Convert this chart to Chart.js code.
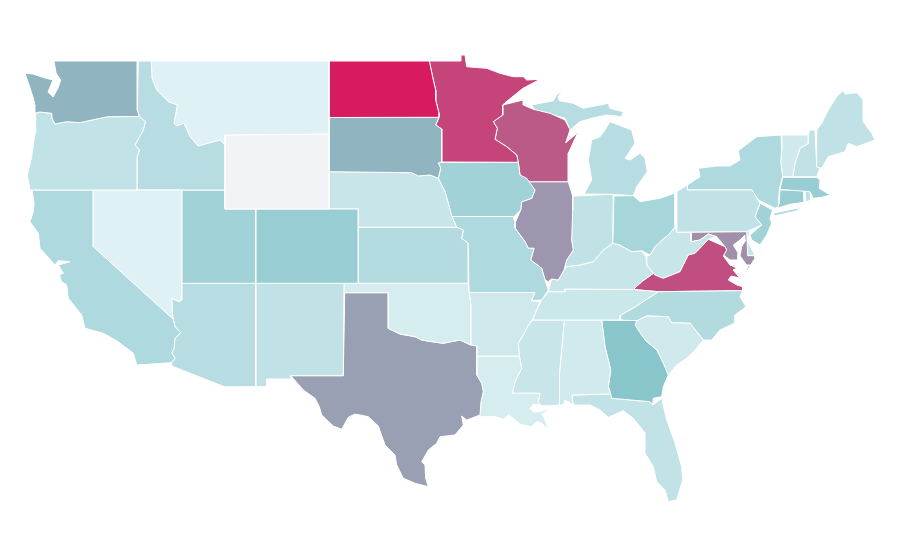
<!DOCTYPE html>
<html>
<head>
<meta charset="utf-8">
<title>US states</title>
<script src="https://cdn.jsdelivr.net/npm/chart.js@4"></script>
<style>
  html, body { margin: 0; padding: 0; background: #fff; }
  canvas { display: block; }
</style>
</head>
<body>
<canvas id="canvas1" width="900" height="560"></canvas>
<script>
// state values, null = no data
var stateNames = ['WA','OR','CA','NV','ID','MT','WY','UT','CO','AZ','NM','ND','SD','NE','KS','OK','TX','MN','IA','MO','AR','LA','WI','IL','IN','OH','MI','KY','TN','MS','AL','GA','FL','SC','NC','VA','WV','MD','DE','PA','NJ','NY','VT','NH','ME','MA','CT','RI'];
var stateValues = [55,17,28,0,23,0,null,36,41,23,18,100,55,13,25,5,61,88,36,28,10,5,82,64,18,33,23,13,12,13,8,50,17,9,26,85,13,66,13,18,36,28,9,18,18,41,41,20];

// outlines, as x,y pairs on the map grid
var outlineWA = [[54,61,137.3,61,137.3,110,139.3,116.5,108,116.7,92,120,80,122.7,66.7,121.7,55,124,52,118,51.7,113.3,40,112,35.7,113,35,105,33.3,98,30,88,25,73.3,33,74,45,78,53,80,48,92,53,97,58,88,60.7,80,56,73]];
var outlineOR = [[35.7,113,40,112,51.7,113.3,52,118,55,124,66.7,121.7,80,122.7,92,120,108,116.7,139.3,116.5,145.3,121.7,143.3,130,135,145,139.3,150,137.3,156.7,137.3,190,30,190,27.3,175,31.7,156.7,35,133.3]];
var outlineCA = [[32,190,93.3,190,93.3,246.7,173.3,319.3,175,326.7,180.7,332.7,175,338.3,174,348.3,171.7,353,175,358.3,171.7,362.7,136.7,365,133.3,353.3,118.3,341.7,103.3,333.3,85,328.3,81.7,315,68.3,298.3,66.7,285,61.7,281.7,59.3,275,63.3,273.3,58.3,265,70,261.7,58.3,260.7,55,265,40,248.3,38.3,233.3,30,221.7,33.3,211.7,34,203]];
var outlineNV = [[93.3,190,181.7,190,181.7,300,179.3,301.7,171.7,298.3,172.7,316.7,173.3,319.3,93.3,246.7]];
var outlineID = [[138.3,61,151.3,61,152,78.3,156.7,90,168.3,101.7,177.3,105,174,123.3,176.7,126,184,123.3,190,136.7,198.3,146,220,140,225,145,225,190,137.3,190,137.3,156.7,139.3,150,135,145,143.3,130,145.3,121.7,139.3,116.5,137.3,110]];
var outlineMT = [[151.3,61,329,61,329,134,225,135,225,145,220,140,198.3,146,190,136.7,184,123.3,176.7,126,174,123.3,177.3,105,168.3,101.7,156.7,90,152,78.3]];
var outlineWY = [[225,135,329,134,329,209,225,209]];
var outlineUT = [[181.7,190,225,190,225,209,255.7,209,255.7,283.3,181.7,283.3]];
var outlineCO = [[255.7,209,358.3,209,358.3,283.3,255.7,283.3]];
var outlineAZ = [[181.7,283.3,255.7,283.3,255.7,386.7,224.3,386.7,171.7,366,171.7,362.7,175,358.3,171.7,353,174,348.3,175,338.3,180.7,332.7,175,326.7,173.3,319.3,172.7,316.7,171.7,298.3,179.3,301.7,181.7,300]];
var outlineNM = [[255.7,283.3,344,283.3,343.3,375.7,290.7,375.7,290.7,379,266.7,379,266.7,386.7,255.7,386.7]];
var outlineND = [[329,61,429.3,61,433.3,80,435.7,90,435.7,100,439,113.3,439,117.3,329,117.5]];
var outlineSD = [[329,117.5,439,117.3,435.7,125,441.7,129,441.7,162,438.3,163,440.7,168,438.3,178.3,430,175,418.3,176,411.7,172.7,329,171.7]];
var outlineNE = [[329,171.7,411.7,172.7,418.3,176,430,175,438.3,178.3,445,191.7,449.3,206.7,451.7,216,456.7,227.3,358.3,227.3,358.3,209,329,209]];
var outlineKS = [[358.3,227.3,456.7,227.3,463.3,230,461.7,238.3,468.3,243.3,468.3,283.3,358.3,283.3]];
var outlineOK = [[344,283.3,468.3,283.3,469,292.5,470.7,303.3,470.7,345,460,340,443.3,343.3,431.7,341.7,421.7,340,415,336.7,400,334,390,329.3,388.3,328.3,388.3,292.7,344.7,292.7]];
var outlineTX = [[344.7,292.7,388.3,292.7,388.3,328.3,390,329.3,400,334,415,336.7,421.7,340,431.7,341.7,443.3,343.3,460,340,470.7,345,476.7,346,476.7,375,481.7,383.3,483.3,391.7,481,401.7,480,415,466.7,420,461.7,416,463.3,425,455,435,440,436.7,436.7,443.3,428.3,450,426.7,453,421.7,461.7,425,465,425.7,478.3,428.3,486.7,415,483.3,403.3,478.3,396.7,465,395,455,385,445,378.3,426,368.3,416.7,355,414,348.3,417.3,341.7,429.3,333.3,426,321.7,415,319.3,406.7,315,398.3,303.3,390,291.7,376.7,290.7,375.7,343.3,375.7]];
var outlineMN = [[429.3,61,461,61,461,55,465,55,466.7,66.7,486.7,68.3,500,73.3,513.3,76.7,523.3,76.7,526.7,80,540,79.3,523,88.3,505,102.7,502.7,105,502.7,115,493.3,121.7,497.3,128.3,495,139.3,506.7,146.7,516.7,155,518.3,162.3,441.7,162,441.7,129,435.7,125,439,117.3,439,113.3,435.7,100,435.7,90,433.3,80]];
var outlineIA = [[438.3,162.3,518.3,162.3,520,175,526.7,178.3,535,190,531.7,198.3,521.7,201.7,520.7,210,514,216.5,451.7,216.5,449.3,206.7,445,191.7,438.3,178.3,440.7,168]];
var outlineMO = [[451.7,216.5,513.3,216.5,515,223,515,228,525,241.7,528.3,248.3,534,248.3,530.7,260,541.7,268.3,545,280,548.3,290,541.7,300,531.7,300.7,535,292.5,469,292.5,468.3,243.3,461.7,238.3,463.3,230,456.7,227.3]];
var outlineAR = [[469,292.5,535,292.5,531.7,300.7,540,301.7,533.3,318,528.3,325,523.3,335,518.3,343.3,519.3,356,476.7,356,476.7,346,470.7,345,470.7,303.3]];
var outlineLA = [[476.7,356,519.3,356,521.7,368.3,515,381.7,512.3,393.3,540,393.3,538.3,401.7,540,405,533.3,404.5,530,408.3,533.3,412,541,411.5,549,407.7,541.7,415,544,417,548.3,429.3,541.7,423.3,536.7,421.7,531.7,426.7,520,424.3,513.3,418.3,508.3,415,503.3,419.3,495,416.7,481.7,416.7,480,417,480,415,481,401.7,483.3,391.7,481.7,383.3,476.7,375]];
var outlineWI = [[502.7,105,523.3,100,523.3,105,533.3,109.3,550,113.3,565,120,569.3,128.3,570,130,565.7,142.7,579,131.7,576.7,135,568.3,153.3,568.3,181.7,526,181.7,520,175,518.3,162.3,516.7,155,506.7,146.7,495,139.3,497.3,128.3,493.3,121.7,502.7,115]];
var outlineIL = [[526,181.7,568.3,181.7,572.7,196,572.7,210,571.7,240,573.3,250,566.7,260,564,270,558.3,280,551.7,279,548.3,281.7,545,280,541.7,268.3,530.7,260,534,248.3,528.3,248.3,525,241.7,515,228,515,223,520.7,210,521.7,201.7,531.7,198.3,535,190]];
var outlineIN = [[572.7,196,613.3,194.3,612.7,243.3,603.3,250,593.3,261.7,580,265,566,266.7,564,270,566.7,260,573.3,250,571.7,240]];
var outlineOH = [[614,196,633.3,195.7,640,201.7,660,198.3,675,193,675,226.7,670,233.3,660,241.7,655,246.7,650,255,641.7,250.7,631.7,251.7,620,245,612.7,243.3]];
var outlineMI = [
  [531.7,105,553.3,100.7,556.7,95,563.3,90,558.3,96.7,559.3,100.7,573.3,103.3,583.3,108.3,608.3,103.3,610,108.3,623.3,111.7,621.7,116.7,606.7,115,591.7,118.3,580,121.7,570,130,565,118.3,550,114,535,110],
  [610,121.7,631.7,130,635,143.3,625,158.3,630,160,640,153.3,645,158.3,647.3,171.7,636.7,186.7,633.3,195.7,613.3,194.3,584,194,591.7,180,588.3,160,591.7,140,600,136.7,605,130]
];
var outlineKY = [[566,266.7,580,265,593.3,261.7,603.3,250,612.7,243.3,620,245,631.7,251.7,641.7,250.7,646,256.7,646.7,265,653.3,273.3,641.7,281.7,633.3,289.5,565,289,565,291.7,548.3,291.7,551.7,279,558.3,280,564,270]];
var outlineTN = [[548.3,291.7,565,291.7,565,289,633.3,289.5,658.3,291.7,648.3,298.3,633.3,308,620.7,315,620,320,533,320,535,313,541.7,300]];
var outlineMS = [[533,320,564.3,320,559.5,373,559.5,405,545,406,540,405,538.3,401.7,540,393.3,512.3,393.3,515,381.7,521.7,368.3,519.3,356,518.3,343.3,523.3,335,528.3,325]];
var outlineAL = [[564.3,320,601.7,320,605,346.7,610.7,370,608.3,386.7,610.7,394,571.7,395,573.3,405,565,400,563.3,405,559.5,405,559.5,373]];
var outlineGA = [[601.7,320,636.7,320.5,635,325,645,340,656.7,350,663.3,363.3,668.3,375,663.3,386.7,661.7,396.7,653.3,398.3,652.7,405,650,401.7,611.7,398.3,610.7,394,608.3,386.7,610.7,370,605,346.7]];
var outlineFL = [[571.7,395,610.7,394,611.7,398.3,650,401.7,652.7,405,661.7,398.3,666.7,420,675,443,681.7,466.7,682.7,480,676.7,500,668.3,501.7,665,490,656.7,481.7,653.3,466.7,645,453,645,433,633.3,418.3,623.3,410.7,608.3,417.3,600,410,590,405,578.3,405,573.3,405]];
var outlineSC = [[635,321.7,646.7,316,668.3,316.7,671.7,322.7,690,323.3,703.3,340,695,350,686.7,358.3,676.7,365,668.3,375,663.3,363.3,656.7,350,645,340,635,325]];
var outlineNC = [[658.3,291.7,742.7,290.7,740,296.7,746,306.7,735,315,735,323,720,330,711.7,340,703.3,340,690,323.3,671.7,322.7,668.3,316.7,646.7,316,635,321.7,620,320,620.7,315,633.3,308,648.3,298.3]];
var outlineVA = [
  [633.3,289.5,641.7,281.7,653.3,273.3,655,275,663.3,278.3,680,271.7,688.3,255,695,253.3,700,248.3,708.3,239.3,725,246.7,726.7,250,723.3,256,730,265,737,268,733,270,740,278,731,276,728.3,280,737,285,742.7,286.7,742.7,290.7,658.3,291.7],
  [750,265,745,276.7,747.7,266.7]
];
var outlineWV = [[646,256.7,650,255,655,246.7,660,241.7,670,233.3,675,226.7,676.7,232.3,691,232.3,691,241.7,700,240,708.3,234,716.7,236.7,708.3,239.3,700,248.3,695,253.3,688.3,255,680,271.7,663.3,278.3,655,275,653.3,273.3,646.7,265]];
var outlineMD = [[691,232.3,746.7,231.7,747.7,255.7,755,255.7,755,258.3,750.7,265,746.7,265,740,256,741.7,246.7,745.7,240,745,235,740,240,733.3,245,738.3,253.3,738,260,730,260,723.3,255,726.7,250,725,246.7,716.7,236.7,708.3,234,700,240,691,241.7]];
var outlineDE = [[746.7,231.7,750,230,747.7,241.7,755,255,747.7,255.7]];
var outlinePA = [[676.7,232.3,746.7,231.7,750,230,761.7,225,755,216.7,760,203.3,752,190,687.3,190,687.3,185,676.7,191.7]];
var outlineNJ = [[760,203.3,772.7,210,770,218.3,771.7,223.3,766.7,235,760,245,751.7,240,750,235,761.7,225,755,216.7]];
var outlineNY = [
  [687.3,190,687.3,185,700,176.7,698.3,168.3,716.7,166,730,166,740,160,738.3,150.7,756.7,136.7,781,135,781.7,150,780.7,161.7,782.7,176.7,779.3,188.3,778.3,206.7,775,208.3,758.3,200,751.7,190],
  [772.7,213.3,800,207.7,796.7,211,775,215.7]
];
var outlineVT = [[781.7,135,808.3,135,808.3,143.3,800,148.3,795,163.3,792.7,176.7,782.7,176.7,780.7,161.7,781.7,150]];
var outlineNH = [[810,130,815,130,816.7,166.7,820,168,816.7,176.7,792.7,176.7,795,163.3,800,148.3,808.3,143.3,808.3,135]];
var outlineME = [[816.7,130,821.7,123.3,828.3,110,836.7,96.7,843.3,90,845,94,856.7,92.7,863.3,100,863.3,121.7,871.7,133.3,875,140,856.7,146.7,848.3,143.3,845,151.7,828.3,156.7,821.7,168.3,816.7,167]];
var outlineMA = [[782.7,177.3,816.7,177.3,820,180,819.3,188.3,830,195,821.7,197.3,813.3,198.3,810,191.7,780,189.3]];
var outlineCT = [[780,190,803.3,190,804,202.3,790,204.3,777.3,208.3,779.3,203.3]];
var outlineRI = [[805,191,810,191.7,810.7,200,806,202.3]];

var outlines = [outlineWA,outlineOR,outlineCA,outlineNV,outlineID,outlineMT,outlineWY,outlineUT,outlineCO,outlineAZ,outlineNM,outlineND,outlineSD,outlineNE,outlineKS,outlineOK,outlineTX,outlineMN,outlineIA,outlineMO,outlineAR,outlineLA,outlineWI,outlineIL,outlineIN,outlineOH,outlineMI,outlineKY,outlineTN,outlineMS,outlineAL,outlineGA,outlineFL,outlineSC,outlineNC,outlineVA,outlineWV,outlineMD,outlineDE,outlinePA,outlineNJ,outlineNY,outlineVT,outlineNH,outlineME,outlineMA,outlineCT,outlineRI];

// colour ramp: pale teal at 0, teal at 50, crimson at 100
function colorFor(v){
    if(v === null){
        return 'rgb(242, 243, 245)';
    }
    var low = [223, 241, 244], mid = [136, 198, 204], high = [216, 27, 96];
    var a = v < 50 ? low : mid;
    var b = v < 50 ? mid : high;
    var t = v < 50 ? v / 50 : (v - 50) / 50;
    return 'rgb(' + Math.round(a[0] + (b[0] - a[0]) * t) + ', ' + Math.round(a[1] + (b[1] - a[1]) * t) + ', ' + Math.round(a[2] + (b[2] - a[2]) * t) + ')';
}

function toPoints(ring){
    var pts = [];
    for(var i = 0; i < ring.length; i += 2){
        pts.push({x: ring[i], y: ring[i + 1]});
    }
    pts.push({x: ring[0], y: ring[1]});
    return pts;
}

var datasets = [];
for(var i = 0; i < stateNames.length; i++){
    for(var j = 0; j < outlines[i].length; j++){
        datasets.push({
            label: stateNames[i],
            data: toPoints(outlines[i][j]),
            showLine: true,
            fill: 'shape',
            backgroundColor: colorFor(stateValues[i]),
            borderColor: '#ffffff',
            borderWidth: 1,
            pointRadius: 0,
            pointHoverRadius: 0,
            tension: 0,
            clip: false
        });
    }
}

var ctx = document.getElementById('canvas1');
var mapChart = new Chart(ctx, {
    type: 'scatter',
    data: { datasets: datasets },
    options: {
        responsive: false,
        animation: false,
        layout: { padding: 0 },
        plugins: { legend: { display: false }, tooltip: { enabled: false } },
        scales: {
            x: { type: 'linear', min: 0, max: 900, display: false },
            y: { type: 'linear', min: 0, max: 560, reverse: true, display: false }
        }
    }
});
</script>
</body>
</html>
